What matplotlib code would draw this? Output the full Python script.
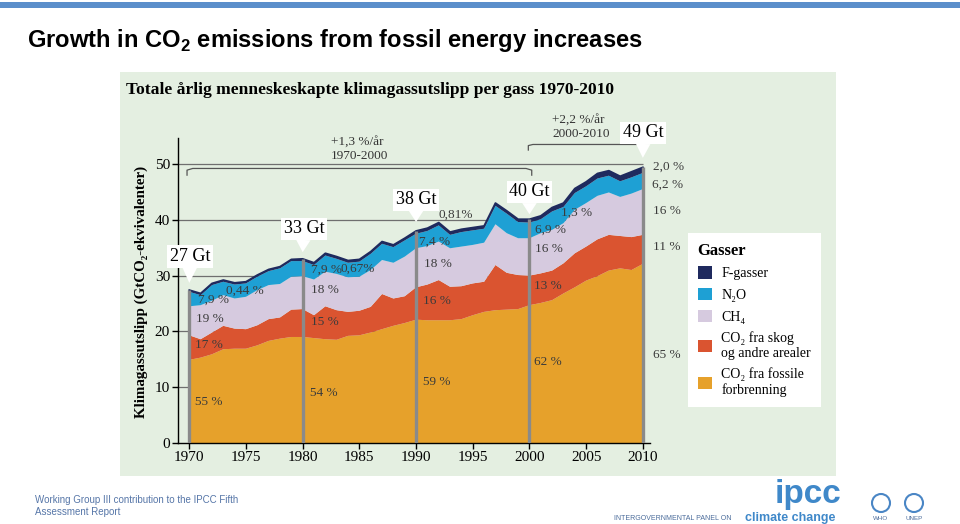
import matplotlib
matplotlib.use("Agg")
import numpy as np
import matplotlib.pyplot as plt
from matplotlib.patches import Rectangle, Patch, Circle

# annual emissions per gas, Gt CO2-eq
years = list(range(1970, 2011))
fossil = [14.9, 15.3, 15.9, 16.8, 16.9, 16.9, 17.5, 18.3, 18.7, 19.0,
          19.0, 18.8, 18.6, 18.5, 19.2, 19.3, 19.8, 20.4, 21.0, 21.5,
          22.1, 22.0, 22.0, 22.0, 22.2, 22.9, 23.5, 23.8, 23.9, 24.0,
          24.7, 25.1, 25.6, 26.8, 27.9, 29.1, 29.9, 30.9, 31.3, 31.0, 32.1]
forest = [4.4, 3.3, 3.9, 4.2, 3.6, 3.5, 3.6, 3.9, 3.8, 4.9,
          5.0, 4.1, 5.9, 5.3, 4.3, 4.4, 4.6, 6.3, 4.9, 4.8,
          5.8, 6.4, 7.2, 6.0, 5.9, 5.7, 5.4, 8.1, 6.6, 6.1,
          5.3, 5.3, 5.3, 5.4, 6.1, 6.1, 6.6, 6.4, 5.8, 5.9, 5.2]
ch4 = [5.2, 6.1, 5.7, 5.5, 5.4, 5.8, 6.3, 6.1, 6.0, 5.9,
       5.9, 6.4, 6.2, 6.5, 6.2, 6.1, 6.6, 6.1, 6.4, 7.1,
       7.0, 6.9, 6.9, 6.9, 7.1, 6.9, 7.0, 7.3, 7.1, 6.6,
       6.7, 7.2, 7.3, 7.2, 7.8, 7.8, 7.8, 7.6, 7.0, 7.8, 8.2]
n2o = [2.6, 1.8, 2.8, 2.4, 2.5, 2.4, 2.4, 2.5, 2.8, 2.8,
       2.7, 2.6, 2.9, 2.7, 2.6, 2.7, 2.9, 2.9, 2.8, 2.9,
       2.6, 2.7, 2.9, 2.4, 2.6, 2.6, 2.5, 3.3, 3.5, 2.9,
       2.8, 2.5, 3.3, 2.9, 3.0, 3.0, 3.1, 3.0, 2.8, 2.9, 2.9]
fgas = [0.3] * 10 + [0.4] * 10 + [0.5] * 10 + \
       [0.6, 0.6, 0.7, 0.7, 0.8, 0.8, 0.9, 0.9, 0.9, 1.0, 1.0]

gas_names = ["F-gasser", "N\u2082O", "CH\u2084",
             "CO\u2082 fra skog\nog andre arealer",
             "CO\u2082 fra fossile\nforbrenning"]
gas_colors = ["#1f2a5e", "#1ea0d4", "#d6cadf", "#da5430", "#e6a12b"]

mark_years = [1970, 1980, 1990, 2000, 2010]
mark_labels = ["27 Gt", "33 Gt", "38 Gt", "40 Gt", "49 Gt"]
label_pos = [(1970.06, 33.4), (1980.1, 38.4), (1990.0, 43.6), (2000.0, 45.0), (2010.05, 55.6)]
tip_y = [28.7, 34.2, 39.6, 41.0, 51.1]

# share labels: text, x, y
shares = [("0,44 %", 1973.25, 27.3), ("7,9 %", 1970.8, 25.6), ("19 %", 1970.6, 22.3),
          ("17 %", 1970.5, 17.6), ("55 %", 1970.5, 7.4),
          ("7,9 %", 1980.7, 31.0), ("0,67%", 1983.35, 31.3), ("18 %", 1980.7, 27.4),
          ("15 %", 1980.7, 21.6), ("54 %", 1980.65, 9.0),
          ("0,81%", 1991.95, 40.9), ("7,4 %", 1990.3, 36.0), ("18 %", 1990.7, 32.1),
          ("16 %", 1990.6, 25.5), ("59 %", 1990.6, 10.9),
          ("1,3 %", 2002.8, 41.2), ("6,9 %", 2000.5, 38.3), ("16 %", 2000.5, 34.7),
          ("13 %", 2000.4, 28.2), ("62 %", 2000.4, 14.6),
          ("2,0 %", 2010.9, 49.5), ("6,2 %", 2010.8, 46.2), ("16 %", 2010.9, 41.5),
          ("11 %", 2010.9, 35.2), ("65 %", 2010.9, 15.8)]

serif = ["Liberation Serif", "DejaVu Serif"]
sans = ["Liberation Sans", "DejaVu Sans"]
plt.rcParams["font.family"] = serif
plt.rcParams["mathtext.fontset"] = "custom"
plt.rcParams["mathtext.rm"] = "Liberation Sans:bold"
plt.rcParams["mathtext.bf"] = "Liberation Sans:bold"

W, H = 960, 524
fig = plt.figure(figsize=(9.6, 5.24), dpi=100)

# slide background in pixel coords
bg = fig.add_axes([0, 0, 1, 1])
bg.set_xlim(0, W)
bg.set_ylim(H, 0)
bg.axis("off")
bg.add_patch(Rectangle((0, 2), W, 6, color="#5b8fcb", lw=0))
bg.add_patch(Rectangle((120, 72), 716, 404, color="#e4efe1", lw=0))
bg.text(27, 41, r"Growth in CO$_{\mathbf{2}}$ emissions from fossil energy increases",
        family=sans, weight="bold", fontsize=17.1, va="center", ha="left", color="black")
bg.text(126, 90, "Totale årlig menneskeskapte klimagassutslipp per gass 1970-2010",
        fontsize=12.6, weight="bold", va="center", ha="left")
bg.text(141, 292, "Klimagassutslipp (GtCO\u2082-ekvivalenter)", rotation=90,
        fontsize=10.8, weight="bold", va="center", ha="center")
bg.text(331, 149, "+1,3 %/år\n1970-2000", fontsize=9.5, va="center", ha="left",
        color="#333333", linespacing=1.15)
bg.text(552, 127, "+2,2 %/år\n2000-2010", fontsize=9.5, va="center", ha="left",
        color="#333333", linespacing=1.15)

# footer
bg.text(35, 506, "Working Group III contribution to the IPCC Fifth\nAssessment Report",
        family=sans, fontsize=7, color="#5676a8", va="center", ha="left", linespacing=1.35)
bg.text(808, 494, "ipcc", family=sans, weight="bold", fontsize=24, color="#3f88c9",
        va="center", ha="center")
bg.text(732, 518, "INTERGOVERNMENTAL PANEL ON", family=sans, fontsize=5, color="#4a6b9a",
        va="center", ha="right")
bg.text(790, 518, "climate change", family=sans, weight="bold", fontsize=9,
        color="#3f88c9", va="center", ha="center")
for cx, name in [(881, "WHO"), (914, "UNEP")]:
    bg.add_patch(Circle((cx, 503), 9, fill=False, ec="#4a86c5", lw=1.5))
    bg.text(cx, 519, name, family=sans, fontsize=4.5, color="#4a6b9a", ha="center", va="center")

# main chart
ax = fig.add_axes([178.3 / W, (H - 443) / H, (650 - 178.3) / W, 305 / H])
ax.set_facecolor("none")
ax.set_xlim(1969.03, 2010.63)
ax.set_ylim(0, 54.66)

ax.hlines([10, 20, 30, 40, 50], 1969.03, 2010, color="#6f6f6f", lw=0.9, zorder=0)
layers = [fossil, forest, ch4, n2o, fgas]
ax.stackplot(years, layers, colors=gas_colors[::-1], lw=0, zorder=1)
total = np.sum(layers, axis=0)
ax.plot(years, total, color=gas_colors[0], lw=1.3, zorder=2)

for yr, lab, (tx, ty), tip in zip(mark_years, mark_labels, label_pos, tip_y):
    ax.vlines(yr, 0, total[years.index(yr)], color="#8a8a8a", lw=2.4, zorder=3)
    ax.annotate(lab, xy=(yr, tip), xytext=(tx, ty), fontsize=13, ha="center", va="center",
                bbox=dict(boxstyle="square,pad=0.15", fc="white", ec="none"),
                arrowprops=dict(arrowstyle="wedge,tail_width=0.8", fc="white", ec="none",
                                shrinkA=0, shrinkB=0),
                zorder=5, annotation_clip=False)

for txt, x, y in shares:
    ax.text(x, y, txt, fontsize=9.5, color="#3b3b3b", ha="left", va="center",
            zorder=4, clip_on=False)

# period brackets
ax.plot([1969.8, 1969.8, 1970.3, 1999.7, 2000.2, 2000.2],
        [48.0, 48.9, 49.2, 49.2, 48.9, 48.0], color="#555555", lw=0.9, clip_on=False)
ax.plot([1999.9, 1999.9, 2000.3, 2010.0],
        [52.5, 53.3, 53.5, 53.5], color="#555555", lw=0.9, clip_on=False)

for s in ["top", "right"]:
    ax.spines[s].set_visible(False)
ax.spines["left"].set_linewidth(1)
ax.spines["bottom"].set_linewidth(1)
ax.set_xticks(list(range(1970, 2011, 5)))
ax.set_yticks([0, 10, 20, 30, 40, 50])
ax.tick_params(labelsize=11, length=4, pad=2, width=1)

handles = [Patch(fc=c, ec="none") for c in gas_colors]
leg = fig.legend(handles, gas_names, loc="upper left",
                 bbox_to_anchor=(688 / W, 1 - 233 / H), title="Gasser",
                 title_fontproperties={"weight": "bold", "size": 12, "family": serif},
                 alignment="left", fontsize=10, frameon=True, fancybox=False,
                 edgecolor="none", framealpha=1, handlelength=1.0, handleheight=1.0,
                 handletextpad=0.7, labelspacing=0.55, borderpad=0.7, borderaxespad=0)

fig.savefig("out.png", dpi=100)
